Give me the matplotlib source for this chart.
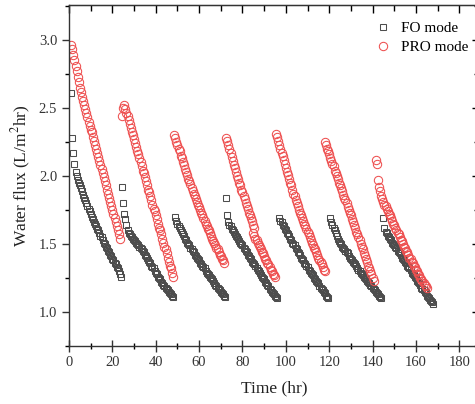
import numpy as np
import matplotlib
matplotlib.use("Agg")
import matplotlib.pyplot as plt
from matplotlib.ticker import MultipleLocator

plt.rcParams['font.family'] = ['Liberation Serif', 'DejaVu Serif']
plt.rcParams['mathtext.fontset'] = 'stix'

STEP = 0.5  # sampling interval (hr)

# FO mode: (start time, flux values every 0.5 hr)
fo_t0 = [1.0, 24.5, 49.0, 72.5, 97.0, 120.5, 145.0]
fo_vals = [
    [2.61, 2.28, 2.17, 2.09, 2.03, 2.00, 1.97, 1.95, 1.93, 1.91, 1.89, 1.86, 1.84, 1.82, 1.80, 1.78,
     1.76, 1.74, 1.72, 1.70, 1.68, 1.66, 1.65, 1.63, 1.61, 1.60, 1.58, 1.56, 1.55, 1.53, 1.51, 1.50,
     1.48, 1.47, 1.45, 1.44, 1.42, 1.41, 1.39, 1.38, 1.36, 1.35, 1.33, 1.32, 1.30, 1.28, 1.26],
    [1.92, 1.80, 1.72, 1.68, 1.64, 1.60, 1.58, 1.57, 1.56, 1.55, 1.54, 1.53, 1.52, 1.51, 1.50, 1.49,
     1.48, 1.47, 1.46, 1.45, 1.44, 1.42, 1.41, 1.40, 1.38, 1.37, 1.36, 1.34, 1.33, 1.32, 1.30, 1.29,
     1.28, 1.26, 1.25, 1.24, 1.22, 1.21, 1.20, 1.19, 1.18, 1.17, 1.16, 1.15, 1.14, 1.13, 1.12, 1.11],
    [1.70, 1.67, 1.65, 1.63, 1.62, 1.60, 1.59, 1.57, 1.56, 1.54, 1.53, 1.51, 1.50, 1.49, 1.47, 1.46,
     1.45, 1.44, 1.42, 1.41, 1.40, 1.39, 1.38, 1.36, 1.35, 1.34, 1.33, 1.32, 1.30, 1.29, 1.28, 1.27,
     1.26, 1.25, 1.24, 1.23, 1.21, 1.20, 1.19, 1.18, 1.17, 1.16, 1.15, 1.14, 1.13, 1.12, 1.11],
    [1.84, 1.71, 1.66, 1.64, 1.63, 1.61, 1.60, 1.59, 1.57, 1.56, 1.55, 1.54, 1.52, 1.51, 1.50, 1.49,
     1.47, 1.46, 1.45, 1.44, 1.42, 1.41, 1.40, 1.39, 1.37, 1.36, 1.35, 1.34, 1.32, 1.31, 1.30, 1.29,
     1.27, 1.26, 1.25, 1.24, 1.22, 1.21, 1.20, 1.19, 1.17, 1.16, 1.15, 1.14, 1.13, 1.12, 1.11, 1.10],
    [1.69, 1.67, 1.66, 1.64, 1.63, 1.61, 1.60, 1.58, 1.57, 1.56, 1.54, 1.53, 1.51, 1.50, 1.49, 1.47,
     1.46, 1.44, 1.43, 1.42, 1.40, 1.39, 1.38, 1.36, 1.35, 1.34, 1.33, 1.31, 1.30, 1.29, 1.28, 1.27,
     1.25, 1.24, 1.23, 1.22, 1.21, 1.19, 1.18, 1.17, 1.16, 1.15, 1.14, 1.12, 1.11, 1.10],
    [1.69, 1.66, 1.64, 1.62, 1.60, 1.58, 1.56, 1.54, 1.52, 1.51, 1.50, 1.48, 1.47, 1.46, 1.45, 1.44,
     1.43, 1.41, 1.40, 1.39, 1.38, 1.37, 1.36, 1.35, 1.34, 1.32, 1.31, 1.30, 1.29, 1.28, 1.27, 1.26,
     1.25, 1.24, 1.23, 1.22, 1.21, 1.20, 1.19, 1.18, 1.17, 1.16, 1.15, 1.14, 1.13, 1.12, 1.11, 1.10],
    [1.69, 1.62, 1.59, 1.58, 1.56, 1.55, 1.54, 1.53, 1.51, 1.50, 1.49, 1.48, 1.47, 1.45, 1.44, 1.43,
     1.42, 1.40, 1.39, 1.38, 1.37, 1.36, 1.34, 1.33, 1.32, 1.31, 1.29, 1.28, 1.27, 1.26, 1.25, 1.23,
     1.22, 1.21, 1.20, 1.18, 1.17, 1.16, 1.15, 1.14, 1.12, 1.11, 1.10, 1.09, 1.08, 1.07, 1.06],
]

# PRO mode
pro_t0 = [1.0, 24.5, 48.5, 72.5, 85.0, 95.5, 118.0, 141.5]
pro_vals = [
    [2.96, 2.93, 2.89, 2.85, 2.81, 2.77, 2.73, 2.69, 2.65, 2.62, 2.58, 2.55, 2.52, 2.49, 2.46, 2.43,
     2.40, 2.37, 2.34, 2.32, 2.29, 2.26, 2.23, 2.20, 2.17, 2.14, 2.11, 2.08, 2.05, 2.02, 1.99, 1.96,
     1.93, 1.90, 1.87, 1.84, 1.81, 1.78, 1.75, 1.72, 1.69, 1.66, 1.63, 1.60, 1.57, 1.54],
    [2.44, 2.50, 2.52, 2.49, 2.46, 2.44, 2.41, 2.38, 2.35, 2.32, 2.30, 2.27, 2.24, 2.21, 2.18, 2.16,
     2.13, 2.10, 2.07, 2.04, 2.02, 1.99, 1.96, 1.93, 1.90, 1.88, 1.85, 1.82, 1.79, 1.76, 1.74, 1.71,
     1.68, 1.65, 1.62, 1.60, 1.57, 1.54, 1.51, 1.48, 1.46, 1.43, 1.40, 1.37, 1.34, 1.32, 1.29, 1.26],
    [2.30, 2.28, 2.25, 2.23, 2.20, 2.18, 2.15, 2.13, 2.10, 2.08, 2.05, 2.03, 2.01, 1.98, 1.96, 1.94,
     1.91, 1.89, 1.87, 1.85, 1.83, 1.81, 1.79, 1.77, 1.75, 1.73, 1.71, 1.69, 1.67, 1.65, 1.63, 1.61,
     1.60, 1.58, 1.56, 1.54, 1.52, 1.51, 1.49, 1.47, 1.46, 1.44, 1.42, 1.41, 1.39, 1.38, 1.36],
    [2.28, 2.26, 2.23, 2.20, 2.17, 2.14, 2.11, 2.08, 2.06, 2.03, 2.00, 1.98, 1.95, 1.93, 1.90, 1.88,
     1.85, 1.83, 1.80, 1.78, 1.76, 1.73, 1.71, 1.69, 1.67, 1.64, 1.62],
    [1.58, 1.56, 1.54, 1.53, 1.51, 1.49, 1.48, 1.46, 1.44, 1.43, 1.41, 1.39, 1.38, 1.36, 1.35, 1.33,
     1.31, 1.30, 1.28, 1.27, 1.26],
    [2.31, 2.29, 2.26, 2.23, 2.20, 2.17, 2.15, 2.12, 2.09, 2.06, 2.03, 2.01, 1.98, 1.95, 1.93, 1.90,
     1.87, 1.85, 1.82, 1.80, 1.78, 1.75, 1.73, 1.71, 1.69, 1.67, 1.65, 1.63, 1.61, 1.59, 1.57, 1.55,
     1.53, 1.51, 1.49, 1.47, 1.46, 1.44, 1.42, 1.40, 1.38, 1.37, 1.35, 1.33, 1.31, 1.30],
    [2.25, 2.23, 2.20, 2.18, 2.16, 2.13, 2.11, 2.09, 2.07, 2.04, 2.02, 2.00, 1.98, 1.95, 1.93, 1.91,
     1.89, 1.86, 1.84, 1.82, 1.80, 1.77, 1.75, 1.73, 1.71, 1.68, 1.66, 1.64, 1.62, 1.59, 1.57, 1.55,
     1.53, 1.50, 1.48, 1.46, 1.43, 1.41, 1.39, 1.37, 1.34, 1.32, 1.30, 1.28, 1.25, 1.23],
    [2.12, 2.09, 1.97, 1.92, 1.89, 1.85, 1.83, 1.81, 1.79, 1.78, 1.76, 1.74, 1.72, 1.71, 1.69, 1.67,
     1.65, 1.64, 1.62, 1.60, 1.58, 1.57, 1.55, 1.53, 1.52, 1.50, 1.48, 1.47, 1.45, 1.44, 1.42, 1.40,
     1.39, 1.37, 1.36, 1.34, 1.33, 1.31, 1.30, 1.28, 1.27, 1.25, 1.24, 1.23, 1.21, 1.20, 1.19, 1.18],
]


def series(t0s, vals):
    ts, ys = [], []
    for t0, v in zip(t0s, vals):
        ts.extend(t0 + STEP * np.arange(len(v)))
        ys.extend(v)
    return np.array(ts), np.array(ys)


fo_t, fo_y = series(fo_t0, fo_vals)
pro_t, pro_y = series(pro_t0, pro_vals)

fig = plt.figure(figsize=(4.75, 4.04), dpi=100)
ax = fig.add_axes([0.1453, 0.1436, 0.865, 0.844])

ax.plot(fo_t, fo_y, 's', ms=4.8, mfc='none', mec='#4d4d4d', mew=0.75, label='FO mode')
ax.plot(pro_t, pro_y, 'o', ms=6.0, mfc='none', mec='#ee5050', mew=0.75, label='PRO mode')

ax.set_xlim(0, 189.5)
ax.set_ylim(0.75, 3.257)
ax.xaxis.set_major_locator(MultipleLocator(20))
ax.xaxis.set_minor_locator(MultipleLocator(10))
ax.yaxis.set_major_locator(MultipleLocator(0.5))
ax.yaxis.set_minor_locator(MultipleLocator(0.25))
ax.yaxis.set_major_formatter(matplotlib.ticker.FormatStrFormatter('%.1f'))

ax.tick_params(axis='x', which='major', direction='inout', length=8, width=1.0, labelsize=10.5, colors='#333333')
ax.tick_params(axis='x', which='minor', direction='inout', length=5, width=1.0)
ax.tick_params(axis='y', which='major', direction='out', length=5, width=1.0, labelsize=10.5, colors='#333333')
ax.tick_params(axis='y', which='minor', direction='out', length=3, width=1.0)
ax.tick_params(top=False, right=False, which='both')

sec_x = ax.secondary_xaxis('top')
sec_x.xaxis.set_major_locator(MultipleLocator(20))
sec_x.xaxis.set_minor_locator(MultipleLocator(10))
sec_x.tick_params(which='both', direction='in', labeltop=False, width=1.0)
sec_x.tick_params(which='major', length=6)
sec_x.tick_params(which='minor', length=4)

sec_y = ax.secondary_yaxis('right')
sec_y.yaxis.set_major_locator(MultipleLocator(0.5))
sec_y.yaxis.set_minor_locator(MultipleLocator(0.25))
sec_y.tick_params(which='both', direction='in', labelright=False, width=1.0)
sec_y.tick_params(which='major', length=6)
sec_y.tick_params(which='minor', length=4)

for s in ax.spines.values():
    s.set_linewidth(1.0)
    s.set_color('#333333')

ax.set_xlabel('Time (hr)', fontsize=12.5, color='#222222', labelpad=8)
ax.set_ylabel(r'Water flux (L/m$^2$hr)', fontsize=12.5, color='#222222', labelpad=4)

ax.legend(loc='upper right', bbox_to_anchor=(0.995, 0.978), frameon=False, fontsize=11,
          handletextpad=0.6, borderaxespad=0.2, labelspacing=0.35, handlelength=1.2)

fig.savefig('out.png', dpi=100)
